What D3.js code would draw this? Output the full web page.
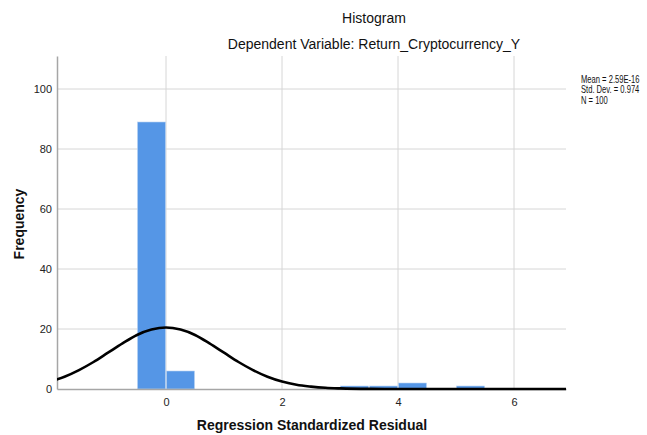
<!DOCTYPE html>
<html>
<head>
<meta charset="utf-8">
<script src="https://cdn.jsdelivr.net/npm/d3@7"></script>
<style>
  body { margin: 0; background: #fff; }
  svg { font-family: Arial, "Liberation Sans", sans-serif; }
</style>
</head>
<body>
<div id="chart"></div>
<script>
// histogram bins (regression standardized residual), bin width 0.5
const binStarts = [-0.5, 0, 3.0, 3.5, 4.0, 5.0];
const binCounts = [89, 6, 1, 1, 2, 1];
const binWidth = 0.5;

// normal curve
const curveX = [-2, -1.75, -1.5, -1.25, -1, -0.75, -0.5, -0.25, 0, 0.25, 0.5, 0.75, 1, 1.25, 1.5, 1.75, 2, 2.25, 2.5, 2.75, 3, 3.5, 4, 5, 6, 7];
const curveY = [2.5, 4.1, 6.3, 9.0, 12.1, 15.2, 18.0, 19.8, 20.5, 19.8, 18.0, 15.2, 12.1, 9.0, 6.3, 4.1, 2.5, 1.4, 0.8, 0.4, 0.2, 0.03, 0, 0, 0, 0];

const xTicks = [0, 2, 4, 6];
const yTicks = [0, 20, 40, 60, 80, 100];
const statLines = ["Mean = 2.59E-16", "Std. Dev. = 0.974", "N = 100"];

const width = 647, height = 435;
const plot = { left: 57, right: 566, top: 56, bottom: 389 };

const svg = d3.select("#chart").append("svg")
  .attr("width", width)
  .attr("height", height);

const x = d3.scaleLinear()
  .domain([(plot.left - 166) / 58, (plot.right - 166) / 58])
  .range([plot.left, plot.right]);

const y = d3.scaleLinear()
  .domain([0, (plot.bottom - plot.top) / 3])
  .range([plot.bottom, plot.top]);

// gridlines
svg.append("g")
  .selectAll("line")
  .data(yTicks.filter(d => d > 0))
  .enter().append("line")
  .attr("x1", plot.left).attr("x2", plot.right)
  .attr("y1", d => y(d)).attr("y2", d => y(d))
  .attr("stroke", "#d6d6d6").attr("stroke-width", 1);

svg.append("g")
  .selectAll("line")
  .data(xTicks)
  .enter().append("line")
  .attr("x1", d => x(d)).attr("x2", d => x(d))
  .attr("y1", plot.top).attr("y2", plot.bottom)
  .attr("stroke", "#d6d6d6").attr("stroke-width", 1);

// bars
const bins = binStarts.map((s, i) => ({ x0: s, x1: s + binWidth, n: binCounts[i] }));
svg.append("g")
  .selectAll("rect")
  .data(bins)
  .enter().append("rect")
  .attr("x", d => x(d.x0) + 0.5)
  .attr("width", d => x(d.x1) - x(d.x0) - 1)
  .attr("y", d => y(d.n))
  .attr("height", d => y(0) - y(d.n))
  .attr("fill", "#5596e6")
  .attr("stroke", "#b9d2f2")
  .attr("stroke-width", 0.6);

// axes (no tick marks, just lines + labels)
const xAxis = svg.append("g")
  .attr("transform", `translate(0,${plot.bottom})`)
  .call(d3.axisBottom(x).tickValues(xTicks).tickSize(0).tickPadding(9).tickFormat(d3.format("d")));
xAxis.select(".domain").attr("stroke", "#a6a6a6").attr("stroke-width", 1.5);

const yAxis = svg.append("g")
  .attr("transform", `translate(${plot.left},0)`)
  .call(d3.axisLeft(y).tickValues(yTicks).tickSize(0).tickPadding(5).tickFormat(d3.format("d")));
yAxis.select(".domain").attr("stroke", "#a6a6a6").attr("stroke-width", 1.5);

svg.selectAll(".tick text")
  .attr("font-family", "Arial, 'Liberation Sans', sans-serif")
  .attr("font-size", 11)
  .attr("fill", "#222");

// normal curve
const curvePts = curveX.map((v, i) => ({ x: v, y: curveY[i] }));
const line = d3.line()
  .x(d => x(d.x))
  .y(d => y(d.y))
  .curve(d3.curveMonotoneX);

svg.append("defs").append("clipPath").attr("id", "clip")
  .append("rect")
  .attr("x", plot.left).attr("y", plot.top)
  .attr("width", plot.right - plot.left).attr("height", plot.bottom - plot.top + 2);

svg.append("path")
  .datum(curvePts)
  .attr("clip-path", "url(#clip)")
  .attr("fill", "none")
  .attr("stroke", "#000")
  .attr("stroke-width", 2.6)
  .attr("d", line);

// titles
svg.append("text")
  .attr("x", 374).attr("y", 23)
  .attr("text-anchor", "middle")
  .attr("font-size", 14)
  .attr("fill", "#111")
  .text("Histogram");

svg.append("text")
  .attr("x", 374).attr("y", 49)
  .attr("text-anchor", "middle")
  .attr("font-size", 14)
  .attr("fill", "#111")
  .text("Dependent Variable: Return_Cryptocurrency_Y");

svg.append("text")
  .attr("transform", "rotate(-90)")
  .attr("x", -224).attr("y", 24)
  .attr("text-anchor", "middle")
  .attr("font-size", 14)
  .attr("font-weight", "bold")
  .attr("fill", "#111")
  .text("Frequency");

svg.append("text")
  .attr("x", 312).attr("y", 430)
  .attr("text-anchor", "middle")
  .attr("font-size", 14)
  .attr("font-weight", "bold")
  .attr("fill", "#111")
  .text("Regression Standardized Residual");

// stats legend, squeezed horizontally like the SPSS annotation
const stats = svg.append("g")
  .attr("transform", "translate(581,0) scale(0.76,1)");

stats.selectAll("text")
  .data(statLines)
  .enter().append("text")
  .attr("x", 0)
  .attr("y", (d, i) => 83 + i * 10.5)
  .attr("font-size", 10)
  .attr("fill", "#111")
  .text(d => d);
</script>
</body>
</html>
